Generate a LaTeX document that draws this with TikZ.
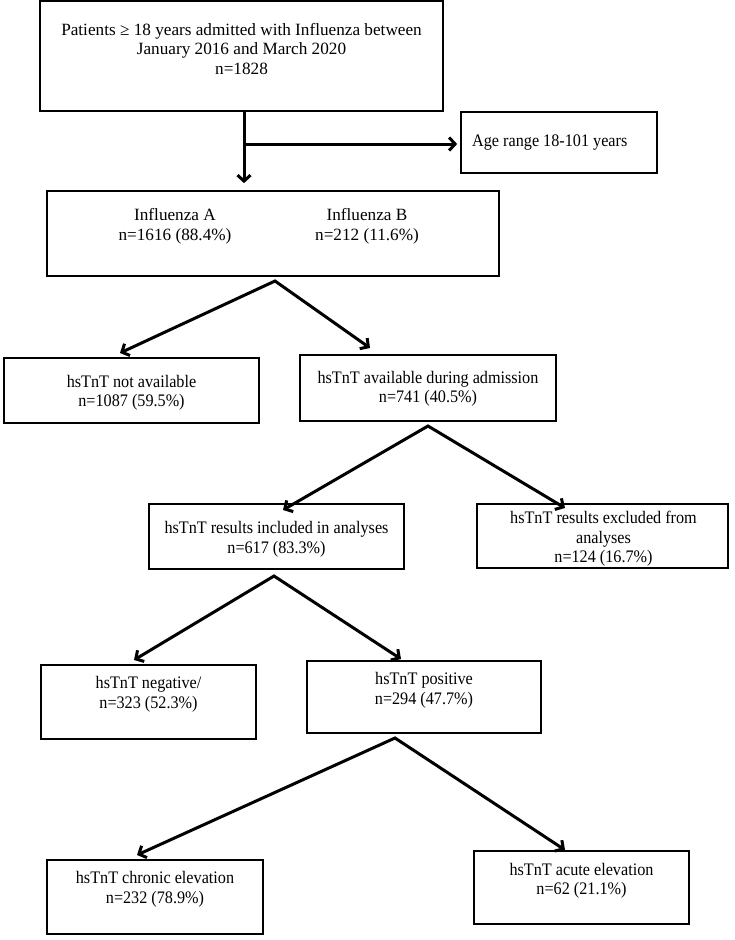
\documentclass[tikz,border=0pt]{standalone}
\usepackage{fontspec}
\setmainfont{Liberation Serif}
\newfontfamily\narrowserif[FakeStretch=0.92]{Liberation Serif}
\usetikzlibrary{arrows.meta,shadows}
\begin{document}
\begin{tikzpicture}[x=1pt,y=-1pt,
  box/.style={draw, line width=1.7pt, rectangle, inner sep=0pt, fill=white,
    drop shadow={opacity=0.18, shadow xshift=1.2pt, shadow yshift=-1.2pt}},
  txt/.style={align=center, inner sep=0pt, font=\narrowserif\fontsize{17.6}{19.5}\selectfont},
  ctxt/.style={align=center, inner sep=0pt, font=\fontsize{17.2}{19.8}\selectfont},
  tip/.tip={Straight Barb[length=6pt,width=13pt]},
  arr/.style={line width=3pt, -tip},
  arrtwo/.style={line width=3pt, line join=miter, tip-tip}]
\fill[white] (0,0) rectangle (735,940);
\useasboundingbox (0,0) rectangle (735,940);

% boxes
\node[box, minimum width=403pt, minimum height=110pt] (top) at (241.5,56) {};
\node[box, minimum width=196pt, minimum height=61pt] (age) at (559,142.5) {};
\node[box, minimum width=452pt, minimum height=85pt] (infl) at (273,233.5) {};
\node[box, minimum width=255pt, minimum height=65pt] (nav) at (131.5,390.5) {};
\node[box, minimum width=256pt, minimum height=66pt] (av) at (428,388) {};
\node[box, minimum width=255pt, minimum height=65pt] (inc) at (276.5,536.5) {};
\node[box, minimum width=251pt, minimum height=64pt] (exc) at (602.5,536) {};
\node[box, minimum width=215pt, minimum height=74pt] (neg) at (148.5,702) {};
\node[box, minimum width=234pt, minimum height=72pt] (pos) at (424,697) {};
\node[box, minimum width=216pt, minimum height=74pt] (chr) at (155,897) {};
\node[box, minimum width=215pt, minimum height=73pt] (acu) at (581.5,887.5) {};

% texts
\node[ctxt] (ttop) at (241.5,49) {Patients ≥ 18 years admitted with Influenza between\\January 2016 and March 2020\\n=1828};
\node[txt, anchor=west] (tage) at (472,143) {Age range 18-101 years};
\node[ctxt] (tA) at (175,226) {Influenza A\\n=1616 (88.4\%)};
\node[ctxt] (tB) at (367,226) {Influenza B\\n=212 (11.6\%)};
\node[txt] (tnav) at (131.5,393) {hsTnT not available\\n=1087 (59.5\%)};
\node[txt] (tav) at (428,389) {hsTnT available during admission\\n=741 (40.5\%)};
\node[txt] (tinc) at (276.5,539.5) {hsTnT results included in analyses\\n=617 (83.3\%)};
\node[txt] (texc) at (603.5,539) {hsTnT results excluded from\\analyses\\n=124 (16.7\%)};
\node[txt] (tneg) at (148.5,694.5) {hsTnT negative/\\n=323 (52.3\%)};
\node[txt] (tpos) at (424,690.5) {hsTnT positive\\n=294 (47.7\%)};
\node[txt] (tchr) at (155,889.5) {hsTnT chronic elevation\\n=232 (78.9\%)};
\node[txt] (tacu) at (581.5,881) {hsTnT acute elevation\\n=62 (21.1\%)};

% connectors
\coordinate (br) at (244,144);
\draw[line width=3pt] (br |- top.south) -- (br);
\draw[arr, shorten >=7pt] (br) -- (br |- infl.north);
\draw[arr, shorten >=3pt] (br) -- (br -| age.west);

\coordinate (p1) at (275,281);
\coordinate (e1) at (120,353);
\coordinate (e2) at (370,348);
\draw[arrtwo] (e1) -- (p1) -- (e2);

\coordinate (p2) at (428,426);
\coordinate (e3) at (283,510);
\coordinate (e4) at (565,508);
\draw[arrtwo] (e3) -- (p2) -- (e4);

\coordinate (p3) at (274,576);
\coordinate (e5) at (134,660);
\coordinate (e6) at (401,659);
\draw[arrtwo] (e5) -- (p3) -- (e6);

\coordinate (p4) at (395,738);
\coordinate (e7) at (137,855);
\coordinate (e8) at (565,850);
\draw[arrtwo] (e7) -- (p4) -- (e8);
\end{tikzpicture}
\end{document}
